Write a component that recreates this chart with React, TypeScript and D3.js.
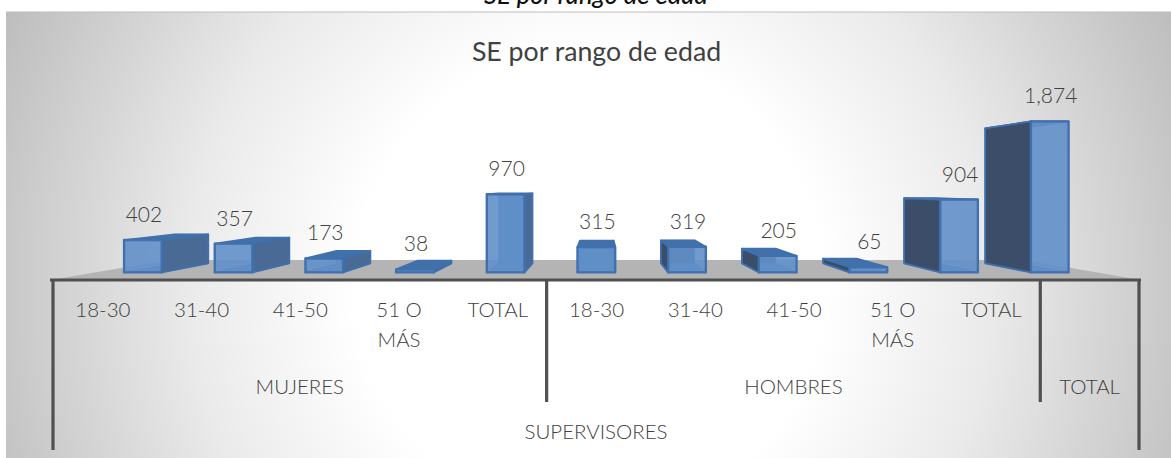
import React from "react";
import * as d3 from "d3";

const categories = ["18-30", "31-40", "41-50", "51 O MÁS", "TOTAL", "18-30 ", "31-40 ", "41-50 ", "51 O MÁS ", "TOTAL ", "TOTAL  "];
const values = [402, 357, 173, 38, 970, 315, 319, 205, 65, 904, 1874];
const valueLabels = ["402", "357", "173", "38", "970", "315", "319", "205", "65", "904", "1,874"];
const groups = [
  { name: "MUJERES", from: 0, to: 4 },
  { name: "HOMBRES", from: 5, to: 9 },
  { name: "TOTAL", from: 10, to: 10 },
];
const outerGroup = "SUPERVISORES";
const title = "SE por rango de edad";

const W = 1171, H = 458;
const FONT = "Lato, 'Open Sans', sans-serif";
const VP = { x: 600, y: 187 };
const K_FRONT = 0.9185, K_BACK = 0.821, K_FLOOR = 0.785;
const AXIS_Y = 280;

const x = d3.scaleBand<string>().domain(categories).range([53, 1139]).paddingInner(0).paddingOuter(0);
const y = d3.scaleLinear().domain([0, 2000]).range([AXIS_Y, 104.5]);
const BAR_W = 41;

const proj = (px: number, py: number, k: number): [number, number] => [VP.x + (px - VP.x) * k, VP.y + (py - VP.y) * k];
const poly = (pts: [number, number][]) => d3.line()(pts)! + "Z";

function Bar({ cat, value, label }: { cat: string; value: number; label: string }) {
  const cx = x(cat)! + x.bandwidth() / 2;
  const l = cx - BAR_W / 2, r = cx + BAR_W / 2;
  const t = y(value), b = y(0);
  const F = K_FRONT, B = K_BACK;
  const frontPts: [number, number][] = [proj(l, t, F), proj(r, t, F), proj(r, b, F), proj(l, b, F)];
  const backPts: [number, number][] = [proj(l, t, B), proj(r, t, B), proj(r, b, B), proj(l, b, B)];
  const topPts: [number, number][] = [proj(l, t, F), proj(r, t, F), proj(r, t, B), proj(l, t, B)];
  const bottomPts: [number, number][] = [proj(l, b, F), proj(r, b, F), proj(r, b, B), proj(l, b, B)];
  const leftPts: [number, number][] = [proj(l, t, F), proj(l, t, B), proj(l, b, B), proj(l, b, F)];
  const rightPts: [number, number][] = [proj(r, t, F), proj(r, t, B), proj(r, b, B), proj(r, b, F)];
  const onLeft = cx < VP.x;
  const nearSide = onLeft ? rightPts : leftPts;
  const sideFill = onLeft ? "#486b94" : "#3a4d69";
  const stroke = "#41709f";
  const edge = "#3f70ad";
  const labelPos = proj(cx, t, F);
  return (
    <g>
      <g filter="url(#soft)" strokeLinejoin="round">
        <path d={poly(backPts)} fill={onLeft ? "#4d78ac" : "#3b5070"} stroke={stroke} strokeWidth={1} />
        <path d={poly(bottomPts)} fill="#4f7db4" stroke={stroke} strokeWidth={1} />
        <path d={poly(topPts)} fill="#426fa8" stroke={edge} strokeWidth={1.8} />
        <path d={poly(nearSide)} fill={sideFill} stroke={edge} strokeWidth={1.8} />
        <path d={poly(frontPts)} fill="#6390c9" fillOpacity={0.9} stroke={edge} strokeWidth={2.4} />
      </g>
      <text x={labelPos[0] + 1} y={labelPos[1] - 26.5} textAnchor="middle" dominantBaseline="central"
        fontFamily={FONT} fontWeight={300} fontSize={21} fill="#404040">{label}</text>
    </g>
  );
}

export default function App() {
  const floor: [number, number][] = [proj(50, AXIS_Y, 1), proj(1141, AXIS_Y, 1), proj(1141, AXIS_Y, K_FLOOR), proj(50, AXIS_Y, K_FLOOR)];
  const axisTop = y(0);
  const dividers = [
    { px: 53, end: 450 },
    { px: x(categories[5])!, end: 402 },
    { px: x(categories[10])!, end: 402 },
    { px: 1139, end: 450 },
  ];
  const tickText = (c: string, i: number) => {
    const t = c.trim();
    const lines = t === "51 O MÁS" ? ["51 O", "MÁS"] : [t];
    const cx = x(c)! + x.bandwidth() / 2;
    return (
      <text key={i} textAnchor="middle" fontFamily={FONT} fontWeight={300} fontSize={20.5} fill="#404040">
        {lines.map((ln, j) => (
          <tspan key={j} x={cx + 0.5} y={317 + j * 30}>{ln}</tspan>
        ))}
      </text>
    );
  };
  return (
    <svg width={W} height={H} style={{ position: "absolute", left: 0, top: 0 }}>
      <defs>
        <radialGradient id="bg" gradientUnits="userSpaceOnUse" cx={590} cy={285} r={650}>
          <stop offset="0.36" stopColor="#ffffff" />
          <stop offset="0.62" stopColor="#eaeaea" />
          <stop offset="1" stopColor="#bcbcbc" />
        </radialGradient>
        <filter id="soft" x="-10%" y="-10%" width="120%" height="120%">
          <feGaussianBlur stdDeviation="0.6" />
        </filter>
      </defs>
      <rect width={W} height={H} fill="#ffffff" />
      <text x={596} y={4} textAnchor="middle" fontFamily={FONT} fontStyle="italic" fontWeight={500} fontSize={25.5} fill="#111">{title}</text>
      <rect x={6} y={12} width={W - 6} height={H - 12} fill="url(#bg)" />
      <line x1={6} x2={W} y1={12} y2={12} stroke="#bdbdbd" strokeWidth={1} />
      <text x={596.5} y={60.5} textAnchor="middle" fontFamily={FONT} fontWeight={400} fontSize={26.7} fill="#404040">{title}</text>

      <path d={poly(floor)} fill="#b4b4b4" filter="url(#soft)" />
      {values.map((v, i) => <Bar key={i} cat={categories[i]} value={v} label={valueLabels[i]} />)}

      <g stroke="#505050" strokeWidth={3.2}>
        <line x1={50} x2={1141} y1={axisTop} y2={axisTop} />
        {dividers.map((d, i) => <line key={i} x1={d.px} x2={d.px} y1={axisTop} y2={d.end} />)}
      </g>

      {categories.slice(0, 10).map(tickText)}
      {groups.map(g => {
        const cx = (x(categories[g.from])! + x(categories[g.to])! + x.bandwidth()) / 2;
        return <text key={g.name} x={cx} y={394} textAnchor="middle" fontFamily={FONT} fontWeight={300} fontSize={20.5} fill="#404040">{g.name}</text>;
      })}
      <text x={596} y={439} textAnchor="middle" fontFamily={FONT} fontWeight={300} fontSize={20.5} fill="#404040">{outerGroup}</text>
    </svg>
  );
}
